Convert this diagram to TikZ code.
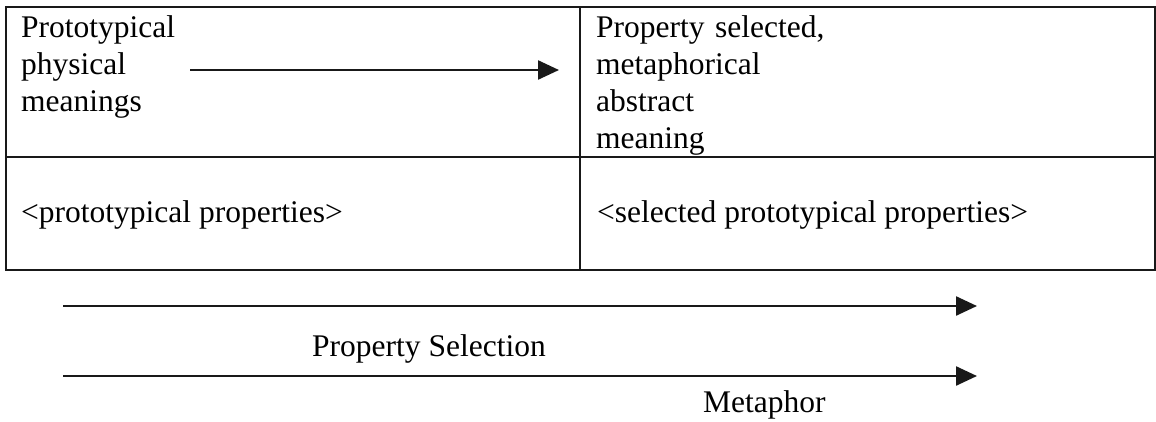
\documentclass[tikz,border=0pt]{standalone}
\usepackage{fontspec}
\setmainfont{Liberation Serif}
\usetikzlibrary{arrows.meta}
\begin{document}
\begin{tikzpicture}[x=1pt,y=-1pt,
  grid/.style={line width=1.6pt, black!90},
  txt/.style={inner sep=0pt, font=\fontsize{31.5}{36.8}\selectfont},
  celltext/.style={txt, align=left, text width=#1, anchor=north west},
  flow/.style={line width=2.4pt, black!90, -{Triangle[length=21pt,width=19pt]}}]
\useasboundingbox (0,0) rectangle (1156,421);

% table: frame, row divider, column divider
\coordinate (tl) at (6,7);
\coordinate (br) at (1155,270);
\coordinate (ml) at (6,157);
\coordinate (mr) at (1155,157);
\coordinate (ct) at (580,7);
\coordinate (cb) at (580,270);
\draw[grid] (tl) rectangle (br);
\draw[grid] (ml) -- (mr);
\draw[grid] (ct) -- (cb);

% upper row
\node[celltext=480pt] (phys) at (21,11.7)
  {\strut Prototypical\\physical\\meanings};
\node[celltext=540pt] (abs) at (596,11.7)
  {\strut Property selected,\\metaphorical\\abstract\\meaning};

% lower row
\node[txt, anchor=base west] (pp) at (21,222) {<prototypical properties>};
\node[txt, anchor=base west] (spp) at (597,222) {<selected prototypical properties>};

% arrow inside the upper left cell
\coordinate (a1s) at (190,70);
\coordinate (a1e) at (559,70);
\draw[flow] (a1s) -- (a1e);

% arrows below the table
\coordinate (a2s) at (63,306);
\coordinate (a2e) at (977,306);
\draw[flow] (a2s) -- (a2e);
\node[txt, anchor=base west] (sel) at (312,356) {Property Selection};

\coordinate (a3s) at (63,376);
\coordinate (a3e) at (977,376);
\draw[flow] (a3s) -- (a3e);
\node[txt, anchor=base west] (met) at (703,412) {Metaphor};
\end{tikzpicture}
\end{document}
